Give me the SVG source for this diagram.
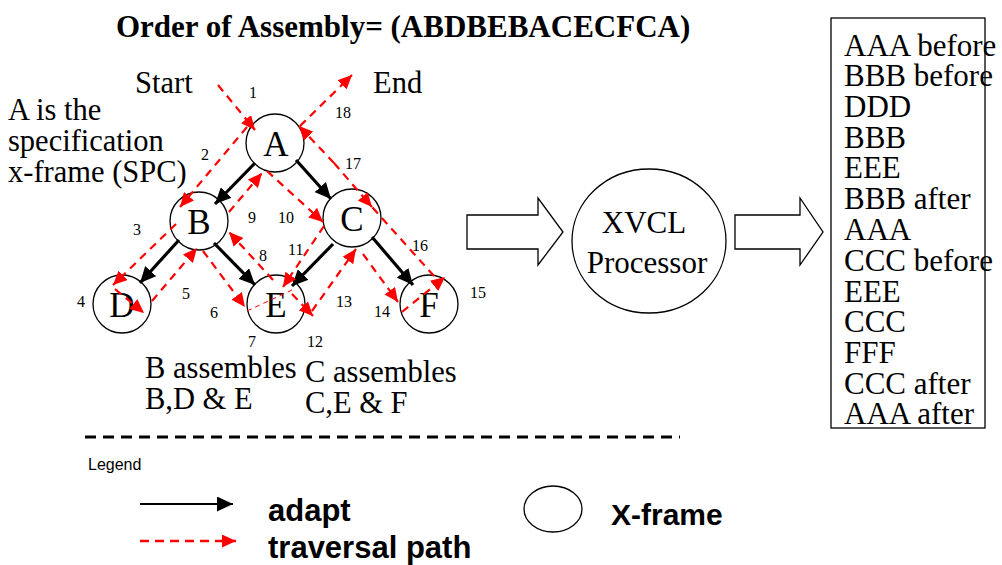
<svg xmlns="http://www.w3.org/2000/svg" width="1002" height="565" viewBox="0 0 1002 565">
<style>
.serif{font-family:"Liberation Serif","Times New Roman",serif;fill:#000}
.sans{font-family:"Liberation Sans",Arial,sans-serif;fill:#000}
.big{font-size:30.5px}
.box{font-size:31px}
.num{font-size:16px}
.node circle,.node ellipse{fill:#fff;stroke:#000;stroke-width:1.3}
.node text{font-size:35px;text-anchor:middle}
.adapt{stroke:#000;stroke-width:3.2;fill:none}
.trav{stroke:#ff0000;stroke-width:2.2;stroke-dasharray:8 6;fill:none}
.thin{stroke:#ff0000;stroke-width:1;stroke-dasharray:5 4;fill:none}
.block{fill:#fff;stroke:#000;stroke-width:1.3}
.leg{font-size:31px;font-weight:bold}
</style>
<defs>
<marker id="ah" markerUnits="userSpaceOnUse" markerWidth="17" markerHeight="15" refX="16" refY="7.5" orient="auto">
<path d="M0,0 L16,7.5 L0,15 z" fill="#000"/>
</marker>
<marker id="rh" markerUnits="userSpaceOnUse" markerWidth="15" markerHeight="13" refX="14" refY="6.5" orient="auto">
<path d="M0,0 L14,6.5 L0,13 z" fill="#ff0000"/>
</marker>
</defs>
<rect width="1002" height="565" fill="#fff"/>

<text class="serif" x="116" y="37" font-size="31" font-weight="bold">Order of Assembly= (ABDBEBACECFCA)</text>
<text class="serif big" x="135" y="93">Start</text>
<text class="serif big" x="373" y="93">End</text>
<text class="serif big" x="8" y="120">A is the</text>
<text class="serif big" x="8" y="151">specification</text>
<text class="serif big" x="8" y="182">x-frame (SPC)</text>

<g id="node-A" class="node"><circle cx="275" cy="143" r="29"/><text class="serif" x="276" y="156">A</text></g>
<g id="node-B" class="node"><circle cx="199" cy="221" r="29"/><text class="serif" x="199" y="234">B</text></g>
<g id="node-C" class="node"><circle cx="352" cy="218" r="29"/><text class="serif" x="352" y="231">C</text></g>
<g id="node-D" class="node"><circle cx="122" cy="304" r="29"/><text class="serif" x="122" y="317">D</text></g>
<g id="node-E" class="node"><circle cx="276" cy="304" r="29"/><text class="serif" x="276" y="317">E</text></g>
<g id="node-F" class="node"><circle cx="429" cy="304" r="29"/><text class="serif" x="429" y="317">F</text></g>

<g id="connectors">
<path class="adapt" d="M255 163 L215 204" marker-end="url(#ah)"/>
<path class="adapt" d="M296 160 L331 199" marker-end="url(#ah)"/>
<path class="adapt" d="M179 240 L140 283" marker-end="url(#ah)"/>
<path class="adapt" d="M214 243 L255 285" marker-end="url(#ah)"/>
<path class="adapt" d="M333 244 L292 286" marker-end="url(#ah)"/>
<path class="adapt" d="M372 237 L413 285" marker-end="url(#ah)"/>

<path class="trav" d="M218 85 L255 130" marker-end="url(#rh)"/>
<path class="trav" d="M247 127 L180 207" marker-end="url(#rh)"/>
<path class="trav" d="M176 224 L113 285" marker-end="url(#rh)"/>
<path class="trav" d="M115 289 L144 313" marker-end="url(#rh)"/>
<path class="trav" d="M152 301 L197 248" marker-end="url(#rh)"/>
<path class="trav" d="M203 251 L245 307" marker-end="url(#rh)"/>
<path class="thin" d="M247 311 L292 290"/>
<path class="trav" d="M273 280 L229 232" marker-end="url(#rh)"/>
<path class="trav" d="M229 212 L262 173" marker-end="url(#rh)"/>
<path class="trav" d="M267 171 L323 222" marker-end="url(#rh)"/>
<path class="trav" d="M324 226 L283 287" marker-end="url(#rh)"/>
<path class="trav" d="M292 294 L313 316" marker-end="url(#rh)"/>
<path class="trav" d="M312 311 L356 249" marker-end="url(#rh)"/>
<path class="trav" d="M363 254 L398 302" marker-end="url(#rh)"/>
<path class="trav" d="M402 312 L445 277" marker-end="url(#rh)"/>
<path class="trav" d="M434 276 L372 207"/>
<path class="trav" d="M334 163 L372 207" marker-end="url(#rh)"/>
<path class="trav" d="M334 163 L299 126" marker-end="url(#rh)"/>
<path class="trav" d="M300 126 L352 75" marker-end="url(#rh)"/>
</g>

<g class="serif num">
<text x="249" y="98">1</text>
<text x="335" y="118">18</text>
<text x="201" y="160">2</text>
<text x="345" y="169">17</text>
<text x="133" y="235">3</text>
<text x="248" y="223">9</text>
<text x="278" y="223">10</text>
<text x="259" y="261">8</text>
<text x="288" y="255">11</text>
<text x="412" y="251">16</text>
<text x="77" y="307">4</text>
<text x="182" y="299">5</text>
<text x="210" y="318">6</text>
<text x="336" y="307">13</text>
<text x="374" y="317">14</text>
<text x="470" y="298">15</text>
<text x="248" y="347">7</text>
<text x="307" y="347">12</text>
</g>

<text class="serif big" x="145" y="378">B assembles</text>
<text class="serif big" x="145" y="409">B,D &amp; E</text>
<text class="serif big" x="305" y="382">C assembles</text>
<text class="serif big" x="305" y="413">C,E &amp; F</text>

<path class="block" d="M467 215 L538 215 L538 198 L563 232 L538 265 L538 249 L467 249 z"/>
<g id="node-XVCL" class="node">
<ellipse cx="649" cy="241" rx="77" ry="72"/>
<text class="serif" x="644" y="233" style="font-size:31px">XVCL</text>
<text class="serif" x="647" y="273" style="font-size:31px">Processor</text>
</g>
<path class="block" d="M735 215 L800 215 L800 198 L823 232 L800 265 L800 249 L735 249 z"/>

<g id="node-output">
<rect x="831" y="18" width="154" height="410" fill="#fff" stroke="#000" stroke-width="1.3"/>
<g class="serif box">
<text x="844" y="56">AAA before</text>
<text x="844" y="86">BBB before</text>
<text x="844" y="117">DDD</text>
<text x="844" y="148">BBB</text>
<text x="844" y="178">EEE</text>
<text x="844" y="209">BBB after</text>
<text x="844" y="240">AAA</text>
<text x="844" y="271">CCC before</text>
<text x="844" y="302">EEE</text>
<text x="844" y="332">CCC</text>
<text x="844" y="363">FFF</text>
<text x="844" y="394">CCC after</text>
<text x="844" y="424">AAA after</text>
</g>
</g>

<line x1="85" y1="437" x2="680" y2="437" stroke="#000" stroke-width="3" stroke-dasharray="11 7"/>

<g id="legend">
<text class="sans" x="88" y="470" font-size="16">Legend</text>
<path d="M140 504 L233 504" stroke="#000" stroke-width="2" marker-end="url(#ah)"/>
<path d="M140 541 L236 541" stroke="#ff0000" stroke-width="2.5" stroke-dasharray="9 6" marker-end="url(#rh)"/>
<text class="sans leg" x="268" y="521">adapt</text>
<text class="sans leg" x="268" y="558">traversal path</text>
<ellipse cx="553" cy="509" rx="29" ry="23" fill="#fff" stroke="#000" stroke-width="1.3"/>
<text class="sans" x="611" y="525" font-size="30" font-weight="bold">X-frame</text>
</g>
</svg>
